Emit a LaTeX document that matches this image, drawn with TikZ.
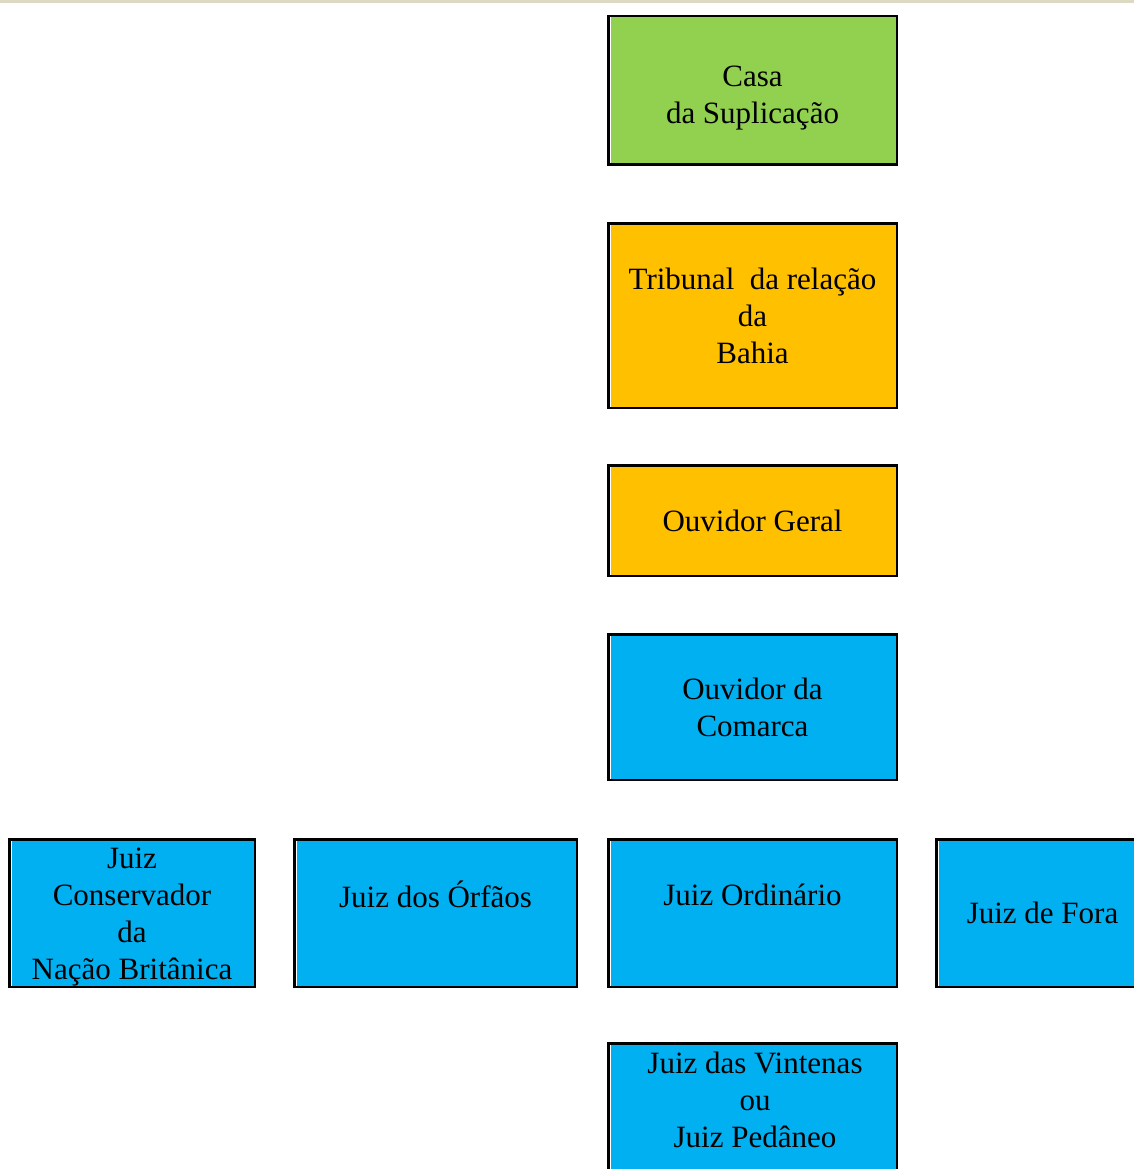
\documentclass[tikz,border=0pt]{standalone}
\usepackage{fontspec}
\setmainfont{Liberation Serif}
\definecolor{band}{HTML}{DDD9C3}
\definecolor{cgreen}{HTML}{92D050}
\definecolor{corange}{HTML}{FFC000}
\definecolor{cblue}{HTML}{00B0F0}
\begin{document}
\begin{tikzpicture}[x=1pt,y=-1pt,
  box/.style={draw=black, line width=2.5pt, inner sep=0pt, align=center,
    minimum width=288.5pt,
    font=\fontsize{31}{37}\selectfont,
    path picture={\draw[white,line width=6pt] (path picture bounding box.north west) -- (path picture bounding box.south west);}},
  txt/.style={inner sep=0pt, align=center, font=\fontsize{31}{37}\selectfont}]
\useasboundingbox (0,0) rectangle (1134,1169);
\clip (0,0) rectangle (1134,1169);
\fill[white] (0,0) rectangle (1134,1169);
\fill[band] (0,0) rectangle (1134,3);

\node[box, fill=cgreen, minimum height=148.5pt] (casa) at (752.5,90.5) {\rule{0pt}{36pt}Casa\\da Suplicação};
\node[box, fill=corange, minimum height=184.5pt] (tribunal) at (752.5,315.5) {Tribunal\ \ da relação\\da\\Bahia};
\node[box, fill=corange, minimum height=110.5pt] (geral) at (752.5,520.5) {Ouvidor Geral};
\node[box, fill=cblue, minimum height=145.5pt] (comarca) at (752.5,707) {Ouvidor da\\Comarca};

\node[box, fill=cblue, minimum width=245.5pt, minimum height=147.5pt] (conservador) at (132,913) {\rule{0pt}{29pt}Juiz\\Conservador\\da\\Nação Britânica};
\node[box, fill=cblue, minimum width=282.5pt, minimum height=147.5pt] (orfaos) at (435.5,913) {Juiz dos Órfãos\\\mbox{}};
\node[box, fill=cblue, minimum height=147.5pt] (ordinario) at (752.5,913) {Juiz Ordinário\\\mbox{}};
\node[box, fill=cblue, minimum width=212.5pt, minimum height=147.5pt] (fora) at (1042.5,913) {Juiz de Fora};

\node[box, fill=cblue, minimum height=150pt] (vintenas) at (752.5,1118.25) {};
\node[txt] (vintenastext) at (755,1100) {Juiz das Vintenas\\ou\\Juiz Pedâneo};
\end{tikzpicture}
\end{document}
